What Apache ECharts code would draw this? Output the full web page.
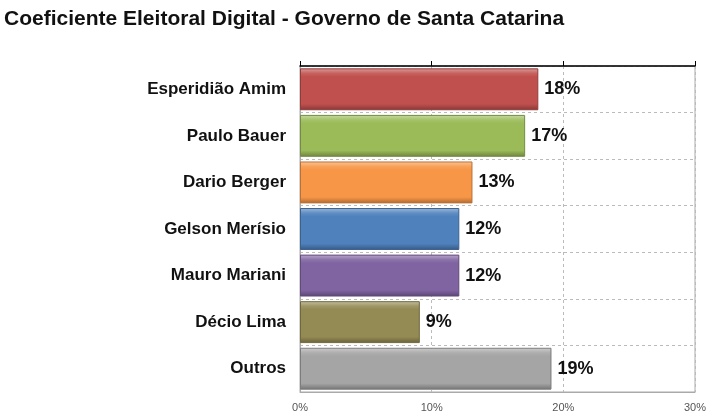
<!DOCTYPE html>
<html><head><meta charset="utf-8">
<script src="https://cdn.jsdelivr.net/npm/echarts@6/dist/echarts.min.js"></script>
<style>html,body{margin:0;padding:0;background:#fff}#c{width:728px;height:420px}</style>
</head><body><div id="c"></div>
<script>
const titleText = 'Coeficiente Eleitoral Digital - Governo de Santa Catarina';
const categories = ['Esperidião Amim','Paulo Bauer','Dario Berger','Gelson Merísio','Mauro Mariani','Décio Lima','Outros'];
const values = [18.1, 17.1, 13.1, 12.1, 12.1, 9.1, 19.1];
const barColors = ['#C0504D','#9BBB59','#F79646','#4F81BD','#8064A2','#948A54','#A5A5A5'];
const tickLabels = ['0%','10%','20%','30%'];

function shade(hex, f){
  const n=parseInt(hex.slice(1),16);let r=n>>16,g=(n>>8)&255,b=n&255;
  if(f>0){r+= (255-r)*f; g+=(255-g)*f; b+=(255-b)*f;} else {r*=1+f;g*=1+f;b*=1+f;}
  return 'rgb('+Math.round(r)+','+Math.round(g)+','+Math.round(b)+')';
}
const chart = echarts.init(document.getElementById('c'));
chart.setOption({
  animation:false,
  title:{text:titleText,left:0,top:4,padding:[5,5,5,4],textStyle:{fontFamily:'Liberation Sans',fontWeight:'bold',fontSize:21,color:'#111'}},
  grid:{left:300,right:33,top:66,bottom:28,show:true,borderColor:'#aaa',borderWidth:1},
  xAxis:[{
    type:'value',min:0,max:30,interval:10,position:'top',
    axisLine:{show:true,lineStyle:{color:'#000',width:1.5}},
    axisTick:{show:true,length:5,lineStyle:{color:'#000'}},
    axisLabel:{show:false},
    splitLine:{show:true,lineStyle:{color:'#bbb',type:[3,3]}}
  },{
    type:'value',min:0,max:30,interval:10,position:'bottom',
    axisLine:{show:true,lineStyle:{color:'#aaa'}},
    axisTick:{show:false},
    splitLine:{show:false},
    axisLabel:{color:'#555',fontSize:11,fontFamily:'Liberation Sans',margin:10,
      formatter:(v)=>tickLabels[Math.round(v/10)]}
  }],
  yAxis:{
    type:'category',data:categories,inverse:true,
    axisLine:{show:true,lineStyle:{color:'#aaa'}},
    axisTick:{show:false},
    splitLine:{show:true,lineStyle:{color:'#bbb',type:[3,3]}},
    axisLabel:{color:'#111',fontSize:17,fontWeight:'bold',fontFamily:'Liberation Sans',margin:14}
  },
  series:[{
    type:'bar',xAxisIndex:0,barCategoryGap:'10%',
    data:values.map((v,i)=>({value:v,itemStyle:{
      color:new echarts.graphic.LinearGradient(0,0,0,1,[
        {offset:0,color:shade(barColors[i],0.45)},
        {offset:0.12,color:shade(barColors[i],0.1)},
        {offset:0.2,color:barColors[i]},
        {offset:0.85,color:barColors[i]},
        {offset:1,color:shade(barColors[i],-0.3)}]),
      borderColor:shade(barColors[i],-0.25),borderWidth:1}})),
    label:{show:true,position:'right',distance:6,color:'#111',fontSize:18,fontWeight:'bold',fontFamily:'Liberation Sans',
      formatter:(p)=>Math.round(p.value)+'%'}
  }]
});
</script></body></html>
